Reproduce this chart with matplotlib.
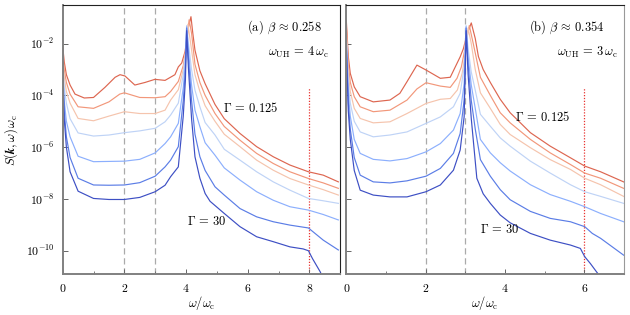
import numpy as np
import matplotlib
matplotlib.use("Agg")
import matplotlib.pyplot as plt
from matplotlib.ticker import FixedLocator, MultipleLocator

plt.rcParams['font.family'] = ['cmr10', 'DejaVu Serif']
plt.rcParams['mathtext.fontset'] = 'cm'
plt.rcParams['axes.formatter.use_mathtext'] = True
plt.rcParams['axes.unicode_minus'] = False

# ---------------- data (log10 of S(k,w) w_c) ----------------
gammas = ["0.125", "", "", "", "", "", "30"]

# panel (a): beta ~ 0.258, w_UH = 4 w_c
a_x1 = [0, 0.05, 0.12, 0.24, 0.4, 0.7, 1.0, 1.37, 1.7, 1.86, 2.02, 2.34, 2.67, 2.99, 3.32, 3.64, 3.75, 3.86, 3.97, 4.07, 4.16, 4.22, 4.29, 4.45, 4.62, 4.94, 5.24, 5.75, 6.29, 6.83, 7.37, 7.97, 8.45, 8.94]
a_y1 = [-2.1, -2.7, -3.2, -3.6, -3.95, -4.1, -4.08, -3.69, -3.3, -3.2, -3.25, -3.6, -3.5, -3.38, -3.42, -3.2, -2.9, -2.75, -2.3, -1.4, -0.96, -1.6, -2.25, -3.05, -3.55, -4.35, -4.9, -5.47, -5.98, -6.37, -6.69, -6.95, -7.08, -7.34]

a_x2 = [0, 0.05, 0.12, 0.24, 0.5, 1.0, 1.5, 1.85, 2.0, 2.5, 3.0, 3.32, 3.5, 3.75, 3.91, 4.0, 4.1, 4.18, 4.29, 4.45, 4.62, 4.94, 5.24, 5.75, 6.29, 6.83, 7.37, 7.97, 8.45, 8.94]
a_y2 = [-2.3, -3.0, -3.5, -3.95, -4.44, -4.5, -4.25, -3.95, -3.9, -4.08, -4.09, -4.05, -3.85, -3.46, -2.85, -2.2, -1.08, -1.6, -2.8, -3.5, -4.0, -4.7, -5.2, -5.73, -6.24, -6.63, -6.95, -7.21, -7.38, -7.59]

a_x3 = [0, 0.05, 0.12, 0.24, 0.5, 1.0, 1.5, 2.0, 2.5, 3.0, 3.32, 3.5, 3.75, 3.91, 4.0, 4.06, 4.14, 4.29, 4.45, 4.62, 4.94, 5.24, 5.75, 6.29, 6.83, 7.37, 7.97, 8.45, 8.94]
a_y3 = [-2.5, -3.3, -3.85, -4.3, -4.89, -4.98, -4.8, -4.63, -4.70, -4.70, -4.57, -4.18, -3.78, -3.0, -2.2, -1.25, -1.9, -3.2, -3.85, -4.4, -5.0, -5.5, -5.98, -6.50, -6.89, -7.21, -7.46, -7.64, -7.85]

a_xb = [0, 0.05, 0.12, 0.24, 0.5, 1.0, 1.5, 2.0, 2.5, 3.0, 3.32, 3.5, 3.75, 3.91, 3.98, 4.02, 4.08, 4.18, 4.29, 4.45, 4.62, 4.94, 5.24, 5.75, 6.29, 6.83, 7.37, 7.97, 8.45, 8.94]
a_y4 = [-2.7, -3.7, -4.3, -4.9, -5.45, -5.57, -5.53, -5.44, -5.37, -5.27, -5.02, -4.76, -4.30, -3.2, -2.4, -1.3, -2.0, -3.0, -3.8, -4.44, -5.05, -5.53, -6.08, -6.50, -6.95, -7.34, -7.66, -7.98, -8.07, -8.17]
a_y5 = [-2.9, -4.2, -5.0, -5.6, -6.35, -6.56, -6.55, -6.54, -6.47, -6.22, -5.86, -5.60, -5.08, -3.7, -2.7, -1.35, -2.3, -3.6, -4.57, -5.21, -5.83, -6.31, -6.8, -7.27, -7.72, -8.05, -8.30, -8.43, -8.6, -8.81]

a_x6 = [0, 0.05, 0.12, 0.24, 0.5, 1.0, 1.5, 2.0, 2.5, 3.0, 3.32, 3.5, 3.75, 3.91, 3.98, 4.02, 4.08, 4.18, 4.29, 4.45, 4.62, 4.94, 5.24, 5.75, 6.29, 6.83, 7.37, 7.97, 8.05, 8.45, 8.94]
a_y6 = [-3.0, -4.6, -5.6, -6.4, -7.2, -7.46, -7.47, -7.46, -7.37, -7.12, -6.76, -6.5, -5.98, -4.2, -3.0, -1.4, -2.6, -4.2, -5.5, -6.37, -6.9, -7.53, -7.85, -8.37, -8.69, -8.88, -9.01, -9.12, -9.2, -9.59, -9.97]

a_x7 = [0, 0.05, 0.12, 0.24, 0.5, 1.0, 1.5, 2.0, 2.5, 3.0, 3.32, 3.5, 3.75, 3.91, 3.98, 4.02, 4.08, 4.18, 4.29, 4.45, 4.62, 4.78, 5.24, 5.75, 6.29, 6.83, 7.37, 7.8, 7.97, 8.1, 8.35, 8.5]
a_y7 = [-3.1, -4.9, -6.0, -6.95, -7.7, -7.98, -8.02, -8.02, -7.94, -7.72, -7.47, -7.14, -6.76, -4.8, -3.4, -1.5, -3.0, -4.9, -6.37, -7.2, -7.79, -8.09, -8.56, -9.07, -9.46, -9.65, -9.85, -9.93, -10.0, -10.3, -10.81, -11.2]

# panel (b): beta ~ 0.354, w_UH = 3 w_c
b_x1 = [0, 0.05, 0.1, 0.2, 0.35, 0.68, 1.1, 1.35, 1.53, 1.78, 2.01, 2.37, 2.62, 2.87, 2.95, 3.05, 3.15, 3.25, 3.33, 3.45, 3.63, 3.88, 4.13, 4.64, 5.14, 5.65, 6.01, 6.41, 6.99]
b_y1 = [-1.1, -2.5, -3.15, -3.67, -4.05, -4.25, -4.18, -3.92, -3.47, -2.83, -3.02, -3.34, -3.3, -2.51, -2.2, -1.6, -1.2, -1.8, -2.5, -3.0, -3.5, -4.15, -4.67, -5.44, -5.96, -6.41, -6.73, -6.95, -7.34]

b_x2 = [0, 0.05, 0.1, 0.2, 0.35, 0.68, 1.1, 1.53, 1.78, 2.01, 2.37, 2.62, 2.79, 2.9, 2.99, 3.1, 3.2, 3.38, 3.63, 3.88, 4.13, 4.64, 5.14, 5.65, 6.01, 6.41, 6.99]
b_y2 = [-1.3, -2.8, -3.5, -4.05, -4.44, -4.63, -4.57, -4.18, -3.75, -3.51, -3.64, -3.69, -3.34, -2.9, -2.2, -1.3, -2.0, -3.3, -4.0, -4.67, -5.06, -5.70, -6.22, -6.67, -7.0, -7.2, -7.59]

b_x3 = [0, 0.05, 0.1, 0.2, 0.35, 0.68, 1.1, 1.53, 2.01, 2.37, 2.62, 2.8, 2.92, 3.0, 3.07, 3.15, 3.25, 3.38, 3.63, 3.88, 4.13, 4.64, 5.14, 5.65, 6.01, 6.41, 6.99]
b_y3 = [-1.5, -3.1, -3.85, -4.5, -4.89, -5.06, -5.02, -4.70, -4.31, -4.15, -4.12, -3.79, -3.15, -2.4, -1.4, -2.0, -3.0, -3.9, -4.5, -5.12, -5.51, -6.02, -6.48, -6.86, -7.2, -7.45, -7.9]

b_xb = [0, 0.05, 0.1, 0.2, 0.35, 0.68, 1.1, 1.53, 2.01, 2.37, 2.70, 2.87, 2.97, 3.02, 3.07, 3.15, 3.25, 3.38, 3.63, 3.88, 4.13, 4.64, 5.14, 5.65, 6.01, 6.41, 6.99]
b_y4 = [-1.7, -3.5, -4.3, -5.0, -5.41, -5.60, -5.53, -5.41, -5.08, -4.83, -4.44, -3.92, -2.9, -1.3, -2.2, -3.1, -3.8, -4.73, -5.19, -5.64, -5.96, -6.54, -7.0, -7.45, -7.72, -7.9, -8.17]
b_y5 = [-1.9, -3.9, -4.8, -5.7, -6.24, -6.47, -6.53, -6.44, -6.18, -5.86, -5.34, -4.70, -3.54, -1.35, -2.5, -3.6, -4.5, -5.70, -6.22, -6.60, -6.92, -7.45, -7.83, -8.09, -8.3, -8.56, -8.88]

b_x6 = [0, 0.05, 0.1, 0.2, 0.35, 0.68, 1.1, 1.53, 2.01, 2.37, 2.70, 2.87, 2.97, 3.02, 3.07, 3.15, 3.25, 3.38, 3.63, 3.88, 4.13, 4.64, 5.14, 5.65, 6.01, 6.2, 6.41, 6.99]
b_y6 = [-2.0, -4.3, -5.3, -6.4, -7.08, -7.34, -7.38, -7.30, -7.12, -6.82, -6.24, -5.47, -4.18, -1.4, -2.8, -4.2, -5.3, -6.48, -7.12, -7.64, -8.03, -8.48, -8.75, -8.88, -9.07, -9.33, -9.52, -10.17]

b_x7 = [0, 0.05, 0.1, 0.2, 0.35, 0.68, 1.1, 1.53, 2.01, 2.37, 2.70, 2.87, 2.97, 3.02, 3.07, 3.15, 3.29, 3.45, 3.63, 3.88, 4.13, 4.64, 5.14, 5.65, 5.9, 6.01, 6.15, 6.3, 6.5]
b_y7 = [-2.1, -4.6, -5.7, -6.9, -7.66, -7.85, -7.92, -7.92, -7.72, -7.46, -6.89, -6.11, -4.83, -1.5, -3.2, -4.9, -7.2, -7.8, -8.17, -8.62, -8.92, -9.33, -9.59, -9.78, -9.91, -10.23, -10.49, -10.8, -11.2]

colors = ['#dd6650', '#f2977a', '#f5c4ad', '#bfd3f6', '#8caffd', '#5b7de6', '#3d4fc4']

panels = [
    dict(xs=[a_x1, a_x2, a_x3, a_xb, a_xb, a_x6, a_x7],
         ys=[a_y1, a_y2, a_y3, a_y4, a_y5, a_y6, a_y7],
         xlim=(0, 9), red=8,
         title=r'(a) $\beta \,\approx\, 0.258$', uh=r'$\omega_{\mathrm{UH}} \,=\, 4\,\omega_{\mathrm{c}}$',
         g1=(0.578, 0.617), g2=(0.448, 0.194)),
    dict(xs=[b_x1, b_x2, b_x3, b_xb, b_xb, b_x6, b_x7],
         ys=[b_y1, b_y2, b_y3, b_y4, b_y5, b_y6, b_y7],
         xlim=(0, 7), red=6,
         title=r'(b) $\beta \,\approx\, 0.354$', uh=r'$\omega_{\mathrm{UH}} \,=\, 3\,\omega_{\mathrm{c}}$',
         g1=(0.607, 0.584), g2=(0.481, 0.167)),
]

fig = plt.figure(figsize=(6.3, 3.15), dpi=100)
ax_a = fig.add_axes([0.0995, 0.130, 0.4405, 0.854])
ax_b = fig.add_axes([0.5497, 0.130, 0.4408, 0.854], sharey=ax_a)
axes = [ax_a, ax_b]

ylim = (10 ** -10.9, 10 ** -0.51)
for i, (ax, p) in enumerate(zip(axes, panels)):
    ax.set_yscale('log')
    for v in (2, 3):
        ax.axvline(v, color='#aaaaaa', lw=0.9, ls=(0, (5, 3)), zorder=1)
    ax.axvline(p['red'], ymin=0, ymax=0.69, color='#e8322e', lw=0.9, ls=(0, (1, 1.3)), zorder=1)
    for x, y, c in zip(p['xs'], p['ys'], colors):
        ax.plot(x, 10 ** np.array(y), color=c, lw=0.85, zorder=2)
    ax.set_xlim(*p['xlim'])
    ax.set_ylim(*ylim)
    ax.xaxis.set_major_locator(MultipleLocator(2))
    ax.xaxis.set_minor_locator(MultipleLocator(1))
    ax.yaxis.set_major_locator(FixedLocator([1e-10, 1e-8, 1e-6, 1e-4, 1e-2]))
    ax.yaxis.set_minor_locator(FixedLocator([]))
    ax.tick_params(which='both', direction='in', labelsize=8.5, color='#666666')
    ax.tick_params(which='major', length=3.5, width=0.7, pad=6)
    ax.tick_params(which='minor', length=2.0, width=0.6)
    for s in ('left', 'bottom'):
        ax.spines[s].set_color('#808080')
        ax.spines[s].set_linewidth(1.4)
    ax.spines['top'].set_color('#222222')
    ax.spines['top'].set_linewidth(0.8)
    ax.spines['right'].set_color('#222222' if i == 0 else '#999999')
    ax.spines['right'].set_linewidth(0.8)
    ax.set_xlabel(r'$\omega/\omega_{\mathrm{c}}$', fontsize=9, labelpad=0)
    ax.text(0.935 if i == 0 else 0.932, 0.918, p['title'], transform=ax.transAxes,
            ha='right', va='center', fontsize=9)
    ax.text(0.958 if i == 0 else 0.978, 0.825, p['uh'], transform=ax.transAxes,
            ha='right', va='center', fontsize=9)
    ax.text(p['g1'][0], p['g1'][1], r'$\Gamma \,=\, %s$' % gammas[0], transform=ax.transAxes,
            ha='left', va='center', fontsize=9)
    ax.text(p['g2'][0], p['g2'][1], r'$\Gamma \,=\, %s$' % gammas[-1], transform=ax.transAxes,
            ha='left', va='center', fontsize=9)

ax_b.tick_params(labelleft=False)
ax_a.set_ylabel(r'$S(\boldsymbol{k},\omega)\,\omega_{\mathrm{c}}$', fontsize=9, labelpad=4)

fig.savefig('out.png', dpi=100)
